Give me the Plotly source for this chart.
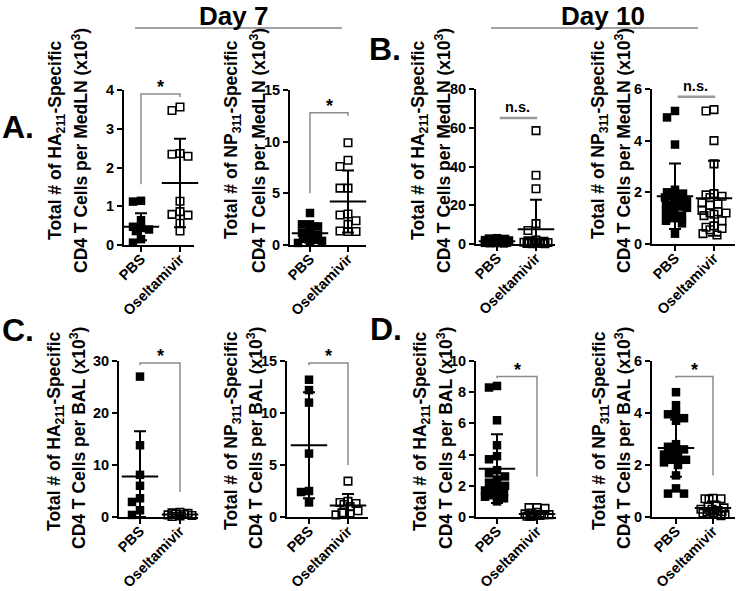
import plotly.graph_objects as go

W, H = 736, 591
GROUPS = ["PBS", "Oseltamivir"]
YTICKS = {"A_HA": [0, 1, 2, 3, 4], "A_NP": [0, 5, 10, 15], "B_HA": [0, 20, 40, 60, 80],
          "B_NP": [0, 2, 4, 6], "C_HA": [0, 10, 20, 30], "C_NP": [0, 5, 10, 15],
          "D_HA": [0, 2, 4, 6, 8, 10], "D_NP": [0, 2, 4, 6]}

# ---- Panel A: Day 7, MedLN ----
A_HA_PBS = [1.12, 1.14, 0.64, 0.47, 0.44, 0.40, 0.36, 0.15, 0.06]
A_HA_OSE = [3.47, 3.56, 2.34, 2.29, 2.36, 1.13, 0.86, 0.77, 0.79, 0.36, 0.56]
A_HA_MEAN = [0.47, 1.60]
A_HA_SD = [0.35, 1.14]

A_NP_PBS = [3.1, 2.0, 2.0, 1.8, 1.5, 1.2, 1.0, 0.8, 0.6, 0.5, 0.4, 0.3, 0.2]
A_NP_OSE = [9.9, 8.2, 7.6, 5.5, 5.5, 3.0, 2.9, 2.35, 2.0, 1.35, 1.3, 1.3]
A_NP_MEAN = [1.13, 4.2]
A_NP_SD = [0.9, 3.0]

# ---- Panel B: Day 10, MedLN ----
B_HA_PBS = [3.0, 2.8, 2.6, 2.4, 2.2, 2.0, 1.8, 1.6, 1.5, 1.4, 1.2, 1.1, 1.0, 0.9, 0.8, 0.7, 0.6, 0.5, 0.4, 0.3]
B_HA_OSE = [58.5, 35.5, 28.5, 10.5, 7.0, 2.0, 1.6, 1.4, 1.2, 1.0, 0.9, 0.8, 0.7, 0.6, 0.5, 0.4, 0.3, 0.3, 0.2, 0.1]
B_HA_MEAN = [1.4, 7.6]
B_HA_SD = [0.8, 15.2]

B_NP_PBS = [5.15, 4.9, 3.85, 2.1, 2.0, 1.95, 1.9, 1.85, 1.8, 1.75, 1.7, 1.6, 1.5, 1.45, 1.4, 1.3, 1.2, 1.1, 1.0, 0.9, 0.8, 0.4]
B_NP_OSE = [5.2, 5.15, 4.0, 3.1, 1.95, 1.9, 1.85, 1.8, 1.6, 1.55, 1.5, 1.3, 1.25, 1.2, 1.2, 1.15, 1.1, 0.9, 0.7, 0.65, 0.6, 0.55, 0.4, 0.35]
B_NP_MEAN = [1.85, 1.77]
B_NP_SD = [1.27, 1.45]

# ---- Panel C: Day 7, BAL ----
C_HA_PBS = [27.0, 13.8, 8.1, 6.0, 3.6, 2.9, 1.3, 0.4]
C_HA_OSE = [0.9, 0.8, 0.7, 0.6, 0.5, 0.4, 0.3, 0.2, 0.1]
C_HA_MEAN = [7.8, 0.5]
C_HA_SD = [8.7, 0.3]

C_NP_PBS = [13.2, 12.2, 11.0, 6.1, 2.5, 2.4, 1.4]
C_NP_OSE = [3.45, 1.5, 1.4, 1.3, 1.2, 1.0, 0.6, 0.4, 0.3, 0.2]
C_NP_MEAN = [6.9, 1.1]
C_NP_SD = [5.1, 1.1]

# ---- Panel D: Day 10, BAL ----
D_HA_PBS = [8.3, 8.4, 6.2, 4.6, 3.9, 3.7, 3.0, 2.8, 2.6, 2.4, 2.2, 2.0, 1.9, 1.8, 1.7, 1.6, 1.5, 1.4, 1.3, 1.2, 1.0]
D_HA_OSE = [0.6, 0.6, 0.55, 0.3, 0.25, 0.2, 0.15, 0.15, 0.1, 0.1, 0.1, 0.05, 0.05, 0.05]
D_HA_MEAN = [3.1, 0.2]
D_HA_SD = [2.2, 0.2]

D_NP_PBS = [4.8, 4.3, 4.0, 3.95, 3.8, 3.7, 2.8, 2.7, 2.6, 2.6, 2.5, 2.4, 2.3, 2.2, 2.2, 2.1, 2.0, 1.6, 1.1, 0.9, 0.9]
D_NP_OSE = [0.72, 0.7, 0.7, 0.68, 0.45, 0.4, 0.35, 0.3, 0.3, 0.25, 0.2, 0.2, 0.15, 0.15, 0.1, 0.1, 0.1, 0.05]
D_NP_MEAN = [2.65, 0.35]
D_NP_SD = [1.1, 0.25]

FONT = "Liberation Sans, Arial, sans-serif"
TITLE1 = {"HA": "Total # of HA<sub>211</sub>-Specific", "NP": "Total # of NP<sub>311</sub>-Specific"}
TITLE2 = {"MedLN": "CD4 T Cells per MedLN (x10<sup>3</sup>)", "BAL": "CD4 T Cells per BAL (x10<sup>3</sup>)"}

# layout geometry in pixels: x-extent, y-extent, category centres, title line centres
PANELS = [
    dict(key="A_HA", d=(A_HA_PBS, A_HA_OSE, A_HA_MEAN, A_HA_SD), px=(124, 194), py=(90, 245), cat=(141, 180),
         t=("HA", "MedLN"), tpos=((57, 140), (80, 151)), br=dict(y=3.9, l=1.57, r=3.82, text="*")),
    dict(key="A_NP", d=(A_NP_PBS, A_NP_OSE, A_NP_MEAN, A_NP_SD), px=(290, 366), py=(90, 245), cat=(310, 348),
         t=("NP", "MedLN"), tpos=((233, 140), (258, 151)), br=dict(y=12.8, l=5.0, r=12.5, text="*")),
    dict(key="B_HA", d=(B_HA_PBS, B_HA_OSE, B_HA_MEAN, B_HA_SD), px=(476, 555), py=(89, 244), cat=(497, 536),
         t=("HA", "MedLN"), tpos=((420, 140), (443, 151)), br=dict(y=65, l=None, r=None, text="n.s.")),
    dict(key="B_NP", d=(B_NP_PBS, B_NP_OSE, B_NP_MEAN, B_NP_SD), px=(652, 735), py=(89, 244), cat=(675, 714),
         t=("NP", "MedLN"), tpos=((600, 140), (623, 151)), br=dict(y=5.7, l=None, r=None, text="n.s.")),
    dict(key="C_HA", d=(C_HA_PBS, C_HA_OSE, C_HA_MEAN, C_HA_SD), px=(119, 198), py=(361, 517), cat=(140, 180),
         t=("HA", "BAL"), tpos=((55, 431), (78, 438)), br=dict(y=29.6, l=29.2, r=4.8, text="*")),
    dict(key="C_NP", d=(C_NP_PBS, C_NP_OSE, C_NP_MEAN, C_NP_SD), px=(287, 368), py=(361, 517), cat=(309, 348),
         t=("NP", "BAL"), tpos=((232, 431), (255, 438)), br=dict(y=14.8, l=14.6, r=5.0, text="*")),
    dict(key="D_HA", d=(D_HA_PBS, D_HA_OSE, D_HA_MEAN, D_HA_SD), px=(476, 556), py=(361, 517), cat=(497, 537),
         t=("HA", "BAL"), tpos=((421, 431), (445, 438)), br=dict(y=9.0, l=8.9, r=2.6, text="*")),
    dict(key="D_NP", d=(D_NP_PBS, D_NP_OSE, D_NP_MEAN, D_NP_SD), px=(652, 735), py=(361, 517), cat=(676, 713),
         t=("NP", "BAL"), tpos=((600, 431), (623, 438)), br=dict(y=5.4, l=5.35, r=1.6, text="*")),
]


def swarm(vals, ppy, ppx, size=8.0, maxw=12):
    """Deterministic GraphPad-like horizontal spreading of overlapping points."""
    placed, offs = [], [0.0] * len(vals)
    order = sorted(range(len(vals)), key=lambda i: -vals[i])
    cands = sorted(range(-maxw, maxw + 1), key=lambda c: (abs(c), c))
    thr = size * 0.9
    for i in order:
        y = vals[i] * ppy
        best, bestscore = 0, -1
        for c in cands:
            d = min((max(abs(c - ox), abs(y - oy)) for ox, oy in placed), default=1e9)
            if d >= thr:
                best = c
                break
            if d > bestscore:
                bestscore, best = d, c
        placed.append((best, y))
        offs[i] = best / ppx
    return offs


fig = go.Figure()
layout = dict(width=W, height=H, margin=dict(l=0, r=0, t=0, b=0, pad=0, autoexpand=False),
              paper_bgcolor="white", plot_bgcolor="white", showlegend=False, hovermode=False,
              font=dict(family=FONT, color="black", weight="bold"))
shapes, annotations = [], []

for i, p in enumerate(PANELS, start=1):
    sfx = "" if i == 1 else str(i)
    xa, ya = "x" + sfx, "y" + sfx
    pbs, ose, mean, sd = p["d"]
    ticks = YTICKS[p["key"]]
    ymax = ticks[-1]
    x0, x1 = p["px"]
    ytop, ybot = p["py"]
    c0, c1 = p["cat"]
    k = c1 - c0
    ppy = (ybot - ytop) / ymax
    layout["xaxis" + sfx] = dict(domain=[x0 / W, x1 / W], range=[(x0 - c0) / k, (x1 - c0) / k], anchor=ya,
                                 tickvals=[0, 1], ticktext=GROUPS, tickangle=-45, ticks="outside", ticklen=5,
                                 tickwidth=2, tickcolor="black", showline=True, linewidth=2, linecolor="black",
                                 showgrid=False, zeroline=False, automargin=False, ticklabelstandoff=-7,
                                 tickfont=dict(size=14.5, weight="bold", color="black"))
    layout["yaxis" + sfx] = dict(domain=[1 - ybot / H, 1 - ytop / H], range=[0, ymax], anchor=xa,
                                 tickvals=ticks, ticks="outside", ticklen=5, tickwidth=2, tickcolor="black",
                                 showline=True, linewidth=2, linecolor="black", showgrid=False, zeroline=False,
                                 automargin=False, tickfont=dict(size=14.5, weight="bold", color="black"))
    offp = swarm(pbs, ppy, k)
    offo = swarm(ose, ppy, k)
    fig.add_trace(go.Scatter(x=[0 + o for o in offp], y=pbs, mode="markers", xaxis=xa, yaxis=ya, cliponaxis=False,
                             marker=dict(symbol="square", size=8.5, color="black", line=dict(width=0))))
    fig.add_trace(go.Scatter(x=[1 + o for o in offo], y=ose, mode="markers", xaxis=xa, yaxis=ya, cliponaxis=False,
                             marker=dict(symbol="square-open", size=7.5, color="black", line=dict(width=1.6))))
    fig.add_trace(go.Scatter(x=[0, 1], y=mean, mode="markers", xaxis=xa, yaxis=ya, cliponaxis=False,
                             marker=dict(symbol="line-ew", size=26, color="black", line=dict(width=2, color="black")),
                             error_y=dict(type="data", array=sd, arrayminus=[min(s, m) for s, m in zip(sd, mean)],
                                          width=6, thickness=2, color="black")))
    # significance bracket
    b = p["br"]
    if b["text"] == "n.s.":
        shapes.append(dict(type="line", xref=xa, yref=ya, x0=0.07, x1=1.03, y0=b["y"], y1=b["y"],
                           line=dict(color="#9a9a9a", width=2.5)))
        annotations.append(dict(xref=xa, yref=ya, x=0.53, y=b["y"], text="n.s.", showarrow=False, yshift=1,
                                font=dict(size=14.5, weight="bold", color="black"),
                                xanchor="center", yanchor="bottom"))
    else:
        shapes.append(dict(type="path", xref=xa, yref=ya,
                           path=f"M 0,{b['l']} L 0,{b['y']} L 1,{b['y']} L 1,{b['r']}",
                           line=dict(color="#8c8c8c", width=1.5)))
        annotations.append(dict(xref=xa, yref=ya, x=0.5, y=b["y"], text="*", showarrow=False, yshift=-5,
                                font=dict(size=18, weight="bold", color="black"),
                                xanchor="center", yanchor="bottom"))
    # axis titles (two lines)
    t1, t2 = p["t"]
    for txt, (cx, cy) in zip((TITLE1[t1], TITLE2[t2]), p["tpos"]):
        annotations.append(dict(xref="paper", yref="paper", x=cx / W, y=1 - cy / H, text=txt, textangle=-90,
                                showarrow=False, xanchor="center", yanchor="middle",
                                font=dict(size=17.5, weight="bold", color="black")))

# panel letters and day headers
for txt, cx, cy in [("A.", 18, 127), ("B.", 385, 49), ("C.", 18, 330), ("D.", 386, 329)]:
    annotations.append(dict(xref="paper", yref="paper", x=cx / W, y=1 - cy / H, text=txt, showarrow=False,
                            xanchor="center", yanchor="middle", font=dict(size=32, weight="bold", color="black")))
for txt, cx, lx0, lx1 in [("Day 7", 233, 135, 342), ("Day 10", 603, 491, 698)]:
    annotations.append(dict(xref="paper", yref="paper", x=cx / W, y=1 - 16 / H, text=txt, showarrow=False,
                            xanchor="center", yanchor="middle", font=dict(size=26, weight="bold", color="black")))
    shapes.append(dict(type="line", xref="paper", yref="paper", x0=lx0 / W, x1=lx1 / W, y0=1 - 28 / H,
                       y1=1 - 28 / H, line=dict(color="#444444", width=1.2)))

layout["shapes"] = shapes
layout["annotations"] = annotations
fig.update_layout(**layout)
fig.write_html("out.html", config={"displayModeBar": False, "staticPlot": True},
               post_script="document.body.style.margin='0px';")
